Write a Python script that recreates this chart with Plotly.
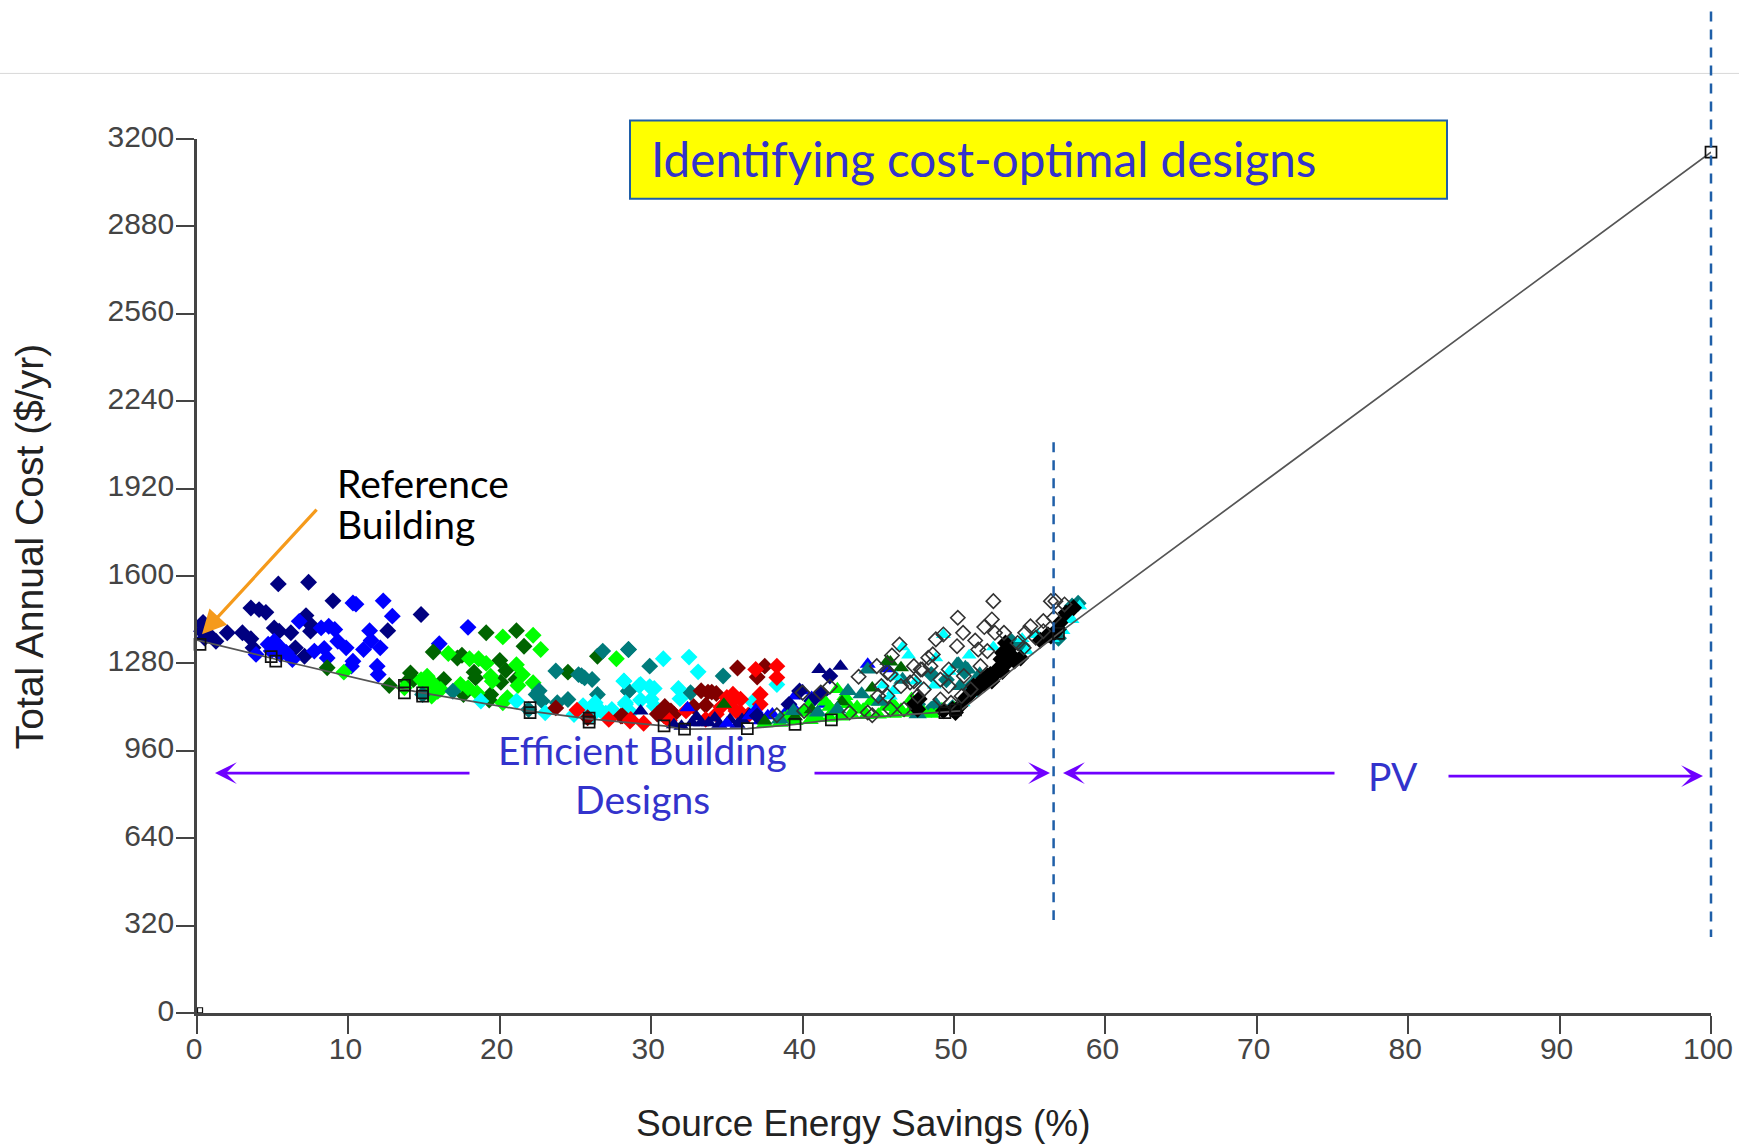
import plotly.graph_objects as go

W, H = 1739, 1146
L, R, T, B = 197, 1711, 138.6, 1013

x_ticks = list(range(0, 101, 10))
y_ticks = list(range(0, 3201, 320))

navy_x = [5.37,7.37,8.98,14.8,3.56,4.1,4.55,7.2,2.0,3.0,3.56,5.1,5.43,6.2,7.5,7.5,12.6,3.7,6.5,7.1,1.25,0.4,0.3,0.5,0.4,0.8]
navy_y = [1571,1577,1509,1459,1483,1477,1467,1455,1392,1392,1370,1410,1398,1392,1422,1398,1400,1337,1337,1306,1361,1422,1398,1373,1430,1385]
blue_x = [10.3,10.5,12.3,12.9,6.75,8.2,8.7,9.1,11.4,11.5,9.3,9.85,11.0,12.1,7.75,5.1,5.43,4.9,5.5,3.9,6.3,8.6,10.3,10.2,11.9,11.97,17.9,16,4.7,5.9,8.4]
blue_y = [1501,1497,1509,1453,1434,1410,1416,1404,1400,1364,1361,1337,1331,1337,1325,1361,1343,1325,1313,1313,1294,1300,1288,1270,1270,1239,1412,1352,1350,1320,1335]
dkgreen_x = [19.1,21.1,21.6,15.6,17.2,17.5,20,20.4,21.06,20.07,18.3,18.4,14.1,14.3,13.9,16.3,19.4,17.6,12.7,8.6,24.5,26.45,19.3]
dkgreen_y = [1392,1400,1343,1322,1300,1310,1291,1254,1221,1211,1248,1227,1245,1221,1215,1221,1166,1166,1199,1264,1248,1306,1146]
lime_x = [20.2,22.2,22.7,16.6,18,18.6,19.1,21.1,21.5,19.4,19.5,21.2,22.2,27.7,15.2,15.55,15.1,15.9,17.4,17.9,18.5,20.5,20.2,9.7,13.7,14.8,16.1,15.5]
lime_y = [1377,1383,1331,1316,1297,1297,1280,1275,1239,1233,1215,1199,1209,1297,1233,1209,1197,1178,1203,1191,1172,1154,1136,1248,1191,1220,1185,1160]
teal_x = [26.8,28.5,23.7,25.2,25.6,26.1,28.5,26.45,22.4,22.8,24.5,23.8,16.9,14.9,21.9,28.5,29.9,28.5,32.6,34.75,57.8,58.2,56.9,53.8,54.5,48.5,49.5,50.7,51.2,47.6,46.1,48.5,49.9,25.4,22.6]
teal_y = [1325,1331,1252,1239,1227,1221,1178,1166,1166,1142,1148,1136,1178,1166,1111,1331,1270,1179,1173,1234,1490,1500,1372,1360,1345,1240,1220,1250,1200,1130,1115,1112,1118,1235,1180]
cyan_x = [28.2,29.2,21.1,18.75,26.3,25.9,26.7,27.4,28.3,23,24.9,28.4,30.8,32.5,33.1,28.2,29.3,29.9,30.2,31.8,31.9,29.3,30,30.2,28.3,38.3,36.7,28.65,25.5,27,26.1]
cyan_y = [1215,1199,1142,1142,1136,1111,1105,1111,1136,1099,1093,1099,1297,1303,1249,1216,1203,1195,1188,1188,1151,1146,1149,1124,1130,1203,1139,1100,1125,1098,1090]
dkred_x = [23.7,25.8,28,35.7,37.5,37,33.75,34.3,30.9,31.3,30.85,33.6,32.8,28.1,31.5,34,33.3,30.4]
dkred_y = [1117,1081,1087,1263,1270,1230,1175,1170,1122,1106,1088,1127,1122,1088,1094,1175,1180,1095]
red_x = [25.1,27.2,28.6,36.9,38.3,38.3,37.2,37.2,35.4,35.9,35,35.6,34.3,32.3,28.65,29.5,35.9,35.2,34.6,33.6,31.2,36.4]
red_y = [1109,1075,1069,1258,1270,1228,1167,1130,1167,1149,1155,1106,1094,1106,1075,1061,1100,1135,1120,1075,1070,1090]

navy_d_x = [41.8,39.8,39.1,40.6,41.2,37]
navy_d_y = [1234,1179,1130,1142,1167,1088]
tri_navy_x = [41.1,42.5,29.3,33.3,32.7,33.8,34.5,35.7,36.5,31.5,32,36,34.2,33,35.2]
tri_navy_y = [1258,1270,1106,1063,1063,1063,1057,1057,1094,1055,1050,1075,1080,1085,1075]
tri_blue_x = [32.4,35,36.5,37.7,44.3,39.5,40.6,39.3,40,38.8,45.6,38,41.5,36.9,37.2]
tri_blue_y = [1118,1061,1088,1088,1277,1161,1155,1125,1180,1095,1260,1095,1130,1110,1070]
tri_dkgreen_x = [34.8,45.8,46.5,37.5,39.5,42.6,44.6,40.6,45.6]
tri_dkgreen_y = [1130,1285,1264,1069,1085,1140,1190,1110,1288]
tri_lime_x = [37.5,38.5,39.5,40.5,41,41.8,42.5,43.2,44.2,45,46,47,48,49,50,42.3,41.5,40.4,41.8,43,44.5,45.5,46.5,48.5,49.2,39,40,42.8,44,46,47.2,40.8,43.6,42,38.8]
tri_lime_y = [1060,1062,1068,1072,1082,1080,1085,1095,1090,1092,1095,1098,1100,1105,1115,1185,1140,1125,1120,1130,1140,1120,1110,1095,1112,1085,1100,1160,1110,1130,1150,1095,1120,1105,1078]
tri_teal_x = [43,43.9,44.3,41,39.4,38.5,48.8,50.3,50.9,50.4,42.3,47.6,45.1,46.6,51.7,50.2,50.75]
tri_teal_y = [1179,1167,1258,1100,1106,1075,1130,1277,1258,1197,1112,1094,1140,1220,1240,1276,1264]
tri_cyan_x = [50.6,51.2,52,53,53.8,54.5,55.5,56.5,57.2,57.8,58.3,49.3,46.6,47,48.8,49.7,47.5,46,48.7,52.6,54.8,51,45.3,46.2,45.8]
tri_cyan_y = [1135,1170,1210,1260,1320,1370,1385,1370,1400,1440,1490,1385,1340,1310,1300,1250,1215,1180,1200,1340,1325,1310,1200,1230,1160]

black_x = [47.35,47.6,49.3,49.9,50.4,50.9,51.3,51.6,51.9,52.2,52.4,52.6,52.85,53.1,53.4,53.2,53.4,53.6,54,54.4,56.4,56.6,57,57.4,57.9,50.7,51.1,52,52.5,53.2,53.8,55.7,56.2,56.9,47.7,50.1]
black_y = [1130,1112,1106,1112,1124,1160,1197,1190,1221,1234,1240,1234,1258,1295,1276,1319,1355,1331,1289,1300,1380,1392,1429,1465,1484,1150,1170,1205,1215,1250,1310,1365,1385,1405,1150,1100]
open_x = [52.6,50.25,50.6,52.5,52,51.4,50.2,52.7,53.3,48.8,49.3,46.4,48.6,47.35,47.9,45.8,46.5,47.35,48.45,49.65,49.65,49.1,51.6,52.2,55.05,55.9,55.4,54.7,54.2,56.4,56.7,57.3,56.6,55.9,54.6,45.8,46.7,50.5,49.8,51.1,51.75,50.65,48,47.6,49.1,45.9,44.9,43.7,41.8,41.2,40,38.3,40.1,45.6,45.2,45,45.6,43.1,44.3,44.6,47.1,47.8,48.3]
open_y = [1508,1447,1392,1441,1413,1364,1343,1392,1392,1368,1386,1349,1313,1270,1258,1240,1197,1215,1270,1258,1197,1221,1331,1325,1416,1435,1374,1392,1355,1508,1508,1496,1447,1398,1337,1112,1112,1160,1136,1185,1270,1234,1185,1161,1148,1309,1270,1231,1195,1173,1173,1090,1106,1246,1197,1161,1161,1100,1100,1090,1210,1258,1301]

front_x = [0,5.0,13.7,14.9,22,25.9,30.85,32.2,36.35,39.5,41.9,49.4,50.4,56.9,100]
front_y = [1365,1298,1185,1172,1105,1077,1051,1039,1041,1057,1073,1100,1106,1390,3152]
square_x = [0.2,4.9,5.2,13.7,13.7,14.9,14.9,22,22,25.9,25.9,30.85,32.2,36.35,39.5,41.9,49.4,50.1,56.9,100]
square_y = [1350,1305,1288,1200,1172,1172,1160,1118,1100,1080,1065,1051,1039,1041,1057,1073,1100,1110,1390,3152]
origin_x = [0.2]
origin_y = [10]

fig = go.Figure()

def pts(xs, ys, symbol, color, size=13, line=None, name=""):
    fig.add_trace(go.Scatter(
        x=xs, y=ys, mode="markers", name=name, showlegend=False, cliponaxis=False,
        marker=dict(symbol=symbol, size=size, color=color,
                    line=line if line else dict(width=0))))

pts(navy_x, navy_y, "diamond", "#000080", name="navy")
pts(blue_x, blue_y, "diamond", "#0000ff", name="blue")
pts(dkgreen_x, dkgreen_y, "diamond", "#006400", name="dark green")
pts(lime_x, lime_y, "diamond", "#00ff00", name="lime")
pts(teal_x, teal_y, "diamond", "#007b7b", name="teal")
pts(cyan_x, cyan_y, "diamond", "#00ffff", name="cyan")
pts(dkred_x, dkred_y, "diamond", "#800000", name="dark red")
pts(red_x, red_y, "diamond", "#ff0000", name="red")
pts(tri_navy_x, tri_navy_y, "triangle-up", "#000080", 14, name="tri navy")
pts(tri_blue_x, tri_blue_y, "triangle-up", "#0000ff", 14, name="tri blue")
pts(navy_d_x, navy_d_y, "diamond", "#000080", name="navy 2")
pts(tri_lime_x, tri_lime_y, "triangle-up", "#00ff00", 15, name="tri lime")
pts(tri_dkgreen_x, tri_dkgreen_y, "triangle-up", "#006400", 14, name="tri dark green")
pts(tri_teal_x, tri_teal_y, "triangle-up", "#007b7b", 16, name="tri teal")
pts(tri_cyan_x, tri_cyan_y, "triangle-up", "#00ffff", 13, name="tri cyan")
pts(black_x, black_y, "diamond", "#000000", 13, name="black")
pts(open_x, open_y, "diamond-open", "#333333", 11, line=dict(width=1.6, color="#333333"), name="open")

fig.add_trace(go.Scatter(x=front_x, y=front_y, mode="lines", showlegend=False, cliponaxis=False,
                         line=dict(color="#555555", width=1.7)))
pts(square_x, square_y, "square-open", "#111111", 11, line=dict(width=1.7, color="#111111"), name="squares")
pts(origin_x, origin_y, "square-open", "#111111", 5, line=dict(width=1.2, color="#111111"), name="origin")

DASH = "#1f5fa8"
PURPLE = "#6f00ff"
BLUE_TXT = "#3333cc"
shapes = [
    dict(type="line", xref="paper", yref="paper", x0=-L/(R-L), x1=(W-L)/(R-L), y0=(B-73)/(B-T), y1=(B-73)/(B-T),
         line=dict(color="#d9d9d9", width=1)),
    dict(type="rect", xref="paper", yref="paper", x0=(630-L)/(R-L), x1=(1447-L)/(R-L), y0=(B-120)/(B-T), y1=(B-198.5)/(B-T),
         fillcolor="#ffff00", line=dict(color=DASH, width=2)),
    dict(type="line", xref="paper", yref="paper", x0=(1053.6-L)/(R-L), x1=(1053.6-L)/(R-L), y0=(B-442)/(B-T), y1=(B-920)/(B-T),
         line=dict(color=DASH, width=2.5, dash="10px,8px")),
    dict(type="line", xref="paper", yref="paper", x0=1, x1=1, y0=(B-11)/(B-T), y1=(B-937)/(B-T),
         line=dict(color=DASH, width=2.5, dash="10px,8px")),
]

def ann_text(text, cx, cy, size, color, anchor="center", family="Lato", angle=0):
    return dict(text=text, xref="paper", yref="paper", x=(cx-L)/(R-L), y=(B-cy)/(B-T), showarrow=False,
                xanchor=anchor, yanchor="middle", textangle=angle, font=dict(family=family, size=size, color=color), align="left")

def arrow(x0, y0, x1, y1, color, width=2.6, head=3, hsize=1.4):
    return dict(text="", xref="paper", yref="paper", x=(x1-L)/(R-L), y=(B-y1)/(B-T),
                ax=x0-x1, ay=y0-y1, axref="pixel", ayref="pixel", showarrow=True,
                arrowhead=head, arrowsize=hsize, arrowwidth=width, arrowcolor=color)

annotations = [
    ann_text("Identifying cost-optimal designs", 649, 158, 47.6, BLUE_TXT, "left"),
    ann_text("Reference", 335, 483, 39, "#000000", "left"),
    ann_text("Building", 335, 524, 39, "#000000", "left"),
    ann_text("Efficient Building", 642, 750, 39, BLUE_TXT),
    ann_text("Designs", 642, 799, 39, BLUE_TXT),
    ann_text("PV", 1393, 776, 39, BLUE_TXT),
    ann_text("Source Energy Savings (%)", 863, 1124, 37, "#222222", family="Liberation Sans"),
    ann_text("Total Annual Cost ($/yr)", 29, 547, 39, "#222222", family="Liberation Sans", angle=-90),
    arrow(471, 773, 215, 773, PURPLE),
    arrow(813, 773, 1050, 773, PURPLE),
    arrow(1336, 773, 1063, 773, PURPLE),
    arrow(1447, 776, 1703, 776, PURPLE),
    arrow(318, 508, 202, 634, "#f59a1b", width=3.2, head=2, hsize=1.5),
]

axis_font = dict(family="Liberation Sans", size=30, color="#444444")

fig.update_layout(
    width=W, height=H, autosize=False,
    margin=dict(l=L, r=W-R, t=T, b=H-B, pad=0, autoexpand=False),
    paper_bgcolor="#ffffff", plot_bgcolor="#ffffff",
    showlegend=False, shapes=shapes, annotations=annotations,
    xaxis=dict(range=[0, 100], tickvals=x_ticks, ticktext=[str(v) for v in x_ticks],
               showgrid=False, zeroline=False, showline=True, linecolor="#444444", linewidth=2.5,
               ticks="outside", ticklen=18, tickwidth=2, tickcolor="#444444", tickfont=axis_font,
               ticklabelstandoff=-11, ticklabelshift=-3),
    yaxis=dict(range=[0, 3200], tickvals=y_ticks, ticktext=[str(v) for v in y_ticks],
               showgrid=False, zeroline=False, showline=True, linecolor="#444444", linewidth=2.5,
               ticks="outside", ticklen=18, tickwidth=2, tickcolor="#444444", tickfont=axis_font,
               ticklabelstandoff=-4, ticklabelshift=-3),
)

fig.write_html("out.html", config={"displayModeBar": False},
               post_script="document.body.style.margin='0';")
